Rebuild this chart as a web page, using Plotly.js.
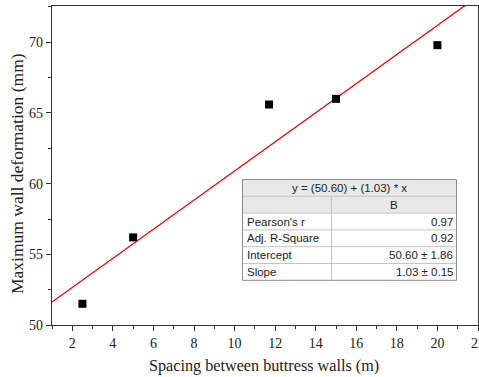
<!DOCTYPE html>
<html>
<head>
<meta charset="utf-8">
<script src="https://cdn.plot.ly/plotly-3.0.1.min.js"></script>
<style>html,body{margin:0;padding:0;background:#fff;}#chart{width:479px;height:377px;}</style>
</head>
<body>
<div id="chart"></div>
<script>
// Data
const spacing = [2.5, 5, 11.7, 15, 20];
const deformation = [51.5, 56.2, 65.6, 66.0, 69.8];
// Fit parameters (as reported)
const fitIntercept = 50.60;
const fitSlope = 1.03;
const fitXRange = [1, 22];
// Titles
const xTitle = 'Spacing between buttress walls (m)';
const yTitle = 'Maximum wall deformation (mm)';
// Table content
const tableTitle = 'y = (50.60) + (1.03) * x';
const tableColHeader = 'B';
const tableLabels = ["Pearson's r", 'Adj. R-Square', 'Intercept', 'Slope'];
const tableValues = ['0.97', '0.92', '50.60 ± 1.86', '1.03 ± 0.15'];

const W = 479, H = 377;
const M = {l: 52, r: 1, t: 6, b: 52};
const PW = W - M.l - M.r, PH = H - M.t - M.b;
const px = x => (x - M.l) / PW;
const py = y => (H - M.b - y) / PH;

const fitY = fitXRange.map(x => fitIntercept + fitSlope * x);

const traces = [
  {x: fitXRange, y: fitY, mode: 'lines', line: {color: '#ff0000', width: 1.3}, hoverinfo: 'skip'},
  {x: spacing, y: deformation, mode: 'markers', marker: {symbol: 'square', size: 8, color: '#000'}, cliponaxis: false}
];

// Table geometry (pixels)
const tL = 242.5, tR = 456.5, tSplit = 331.5, tTop = 179.5, rowH = 16.8;
const shapes = [];
const annotations = [];
shapes.push({type: 'rect', xref: 'paper', yref: 'paper', x0: px(tL), x1: px(tR), y0: py(tTop + 2 * rowH), y1: py(tTop), fillcolor: '#e8e8e8', line: {width: 0}, layer: 'above'});
shapes.push({type: 'rect', xref: 'paper', yref: 'paper', x0: px(tL), x1: px(tR), y0: py(tTop + 6 * rowH), y1: py(tTop + 2 * rowH), fillcolor: '#ffffff', line: {width: 0}, layer: 'above'});
for (let i = 1; i < 6; i++) {
  shapes.push({type: 'line', xref: 'paper', yref: 'paper', x0: px(tL), x1: px(tR), y0: py(tTop + i * rowH), y1: py(tTop + i * rowH), line: {color: '#c4c4c4', width: 1}, layer: 'above'});
}
shapes.push({type: 'line', xref: 'paper', yref: 'paper', x0: px(tSplit), x1: px(tSplit), y0: py(tTop + rowH), y1: py(tTop + 6 * rowH), line: {color: '#c4c4c4', width: 1}, layer: 'above'});
shapes.push({type: 'rect', xref: 'paper', yref: 'paper', x0: px(tL), x1: px(tR), y0: py(tTop + 6 * rowH), y1: py(tTop), fillcolor: 'rgba(0,0,0,0)', line: {color: '#8a8a8a', width: 1}, layer: 'above'});

const tfont = {family: 'Liberation Sans, Arial, sans-serif', size: 11.5, color: '#222'};
annotations.push({xref: 'paper', yref: 'paper', x: px((tL + tR) / 2), y: py(tTop + 0.5 * rowH), text: tableTitle, showarrow: false, xanchor: 'center', yanchor: 'middle', font: tfont});
annotations.push({xref: 'paper', yref: 'paper', x: px((tSplit + tR) / 2), y: py(tTop + 1.5 * rowH), text: tableColHeader, showarrow: false, xanchor: 'center', yanchor: 'middle', font: tfont});
tableLabels.forEach((lab, i) => {
  annotations.push({xref: 'paper', yref: 'paper', x: px(tL + 2), y: py(tTop + (2.5 + i) * rowH), text: lab, showarrow: false, xanchor: 'left', yanchor: 'middle', font: tfont});
  annotations.push({xref: 'paper', yref: 'paper', x: px(tR - 2), y: py(tTop + (2.5 + i) * rowH), text: tableValues[i], showarrow: false, xanchor: 'right', yanchor: 'middle', font: tfont});
});

const serif = 'Liberation Serif, Times New Roman, serif';
annotations.push({xref: 'paper', yref: 'paper', x: px(264), y: py(366), text: xTitle, showarrow: false, xanchor: 'center', yanchor: 'middle', font: {family: serif, size: 16.2, color: '#222'}});
annotations.push({xref: 'paper', yref: 'paper', x: px(17), y: py(174), text: yTitle, textangle: -90, showarrow: false, xanchor: 'center', yanchor: 'middle', font: {family: serif, size: 17.5, color: '#222'}});

const layout = {
  width: W, height: H,
  margin: M,
  paper_bgcolor: '#fff', plot_bgcolor: '#fff',
  showlegend: false,
  xaxis: {
    range: [1, 22.0001], dtick: 2, tick0: 0,
    ticks: 'outside', ticklen: 5, tickwidth: 1, tickcolor: '#333',
    ticklabeloverflow: 'allow',
    minor: {dtick: 1, tick0: 0, ticks: 'outside', ticklen: 3, tickcolor: '#333', showgrid: false},
    showgrid: false, zeroline: false,
    showline: true, linecolor: '#333', linewidth: 1.2, mirror: true,
    tickfont: {family: serif, size: 14, color: '#222'}
  },
  yaxis: {
    range: [50, 72.57], dtick: 5, tick0: 0,
    ticks: 'outside', ticklen: 5, tickwidth: 1, tickcolor: '#333',
    minor: {dtick: 2.5, tick0: 0, ticks: 'outside', ticklen: 3, tickcolor: '#333', showgrid: false},
    showgrid: false, zeroline: false,
    showline: true, linecolor: '#333', linewidth: 1.2, mirror: true,
    tickfont: {family: serif, size: 14, color: '#222'}
  },
  shapes: shapes,
  annotations: annotations
};

Plotly.newPlot('chart', traces, layout, {staticPlot: true, displayModeBar: false});
</script>
</body>
</html>
